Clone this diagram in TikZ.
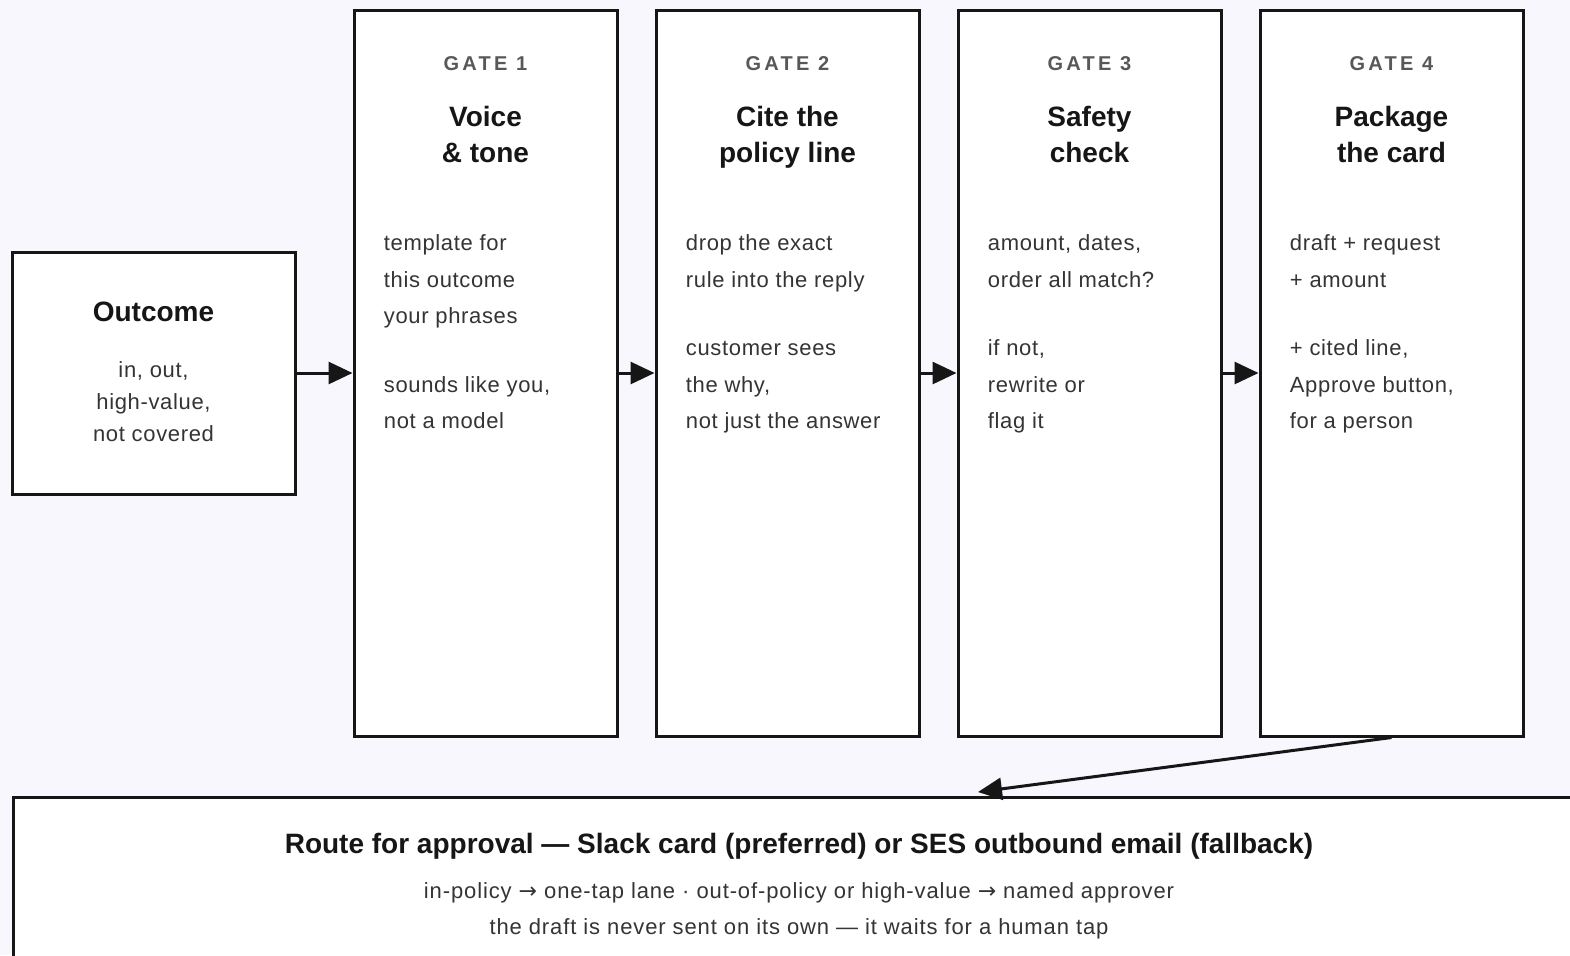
\documentclass[tikz,border=0pt]{standalone}
\usepackage{xcolor}
\usepackage{fontspec}
\setmainfont{Liberation Sans}
\newfontfamily\arrowfont{DejaVu Sans}
\usetikzlibrary{positioning,calc,arrows.meta}
\definecolor{pagebg}{RGB}{248, 247, 253}
\definecolor{inkdark}{RGB}{22, 22, 22}
\definecolor{inkbody}{RGB}{52, 52, 52}
\definecolor{taggrey}{RGB}{88, 88, 88}
\newcommand{\toarrow}{{\arrowfont\fontsize{11}{12}\selectfont →}}

\begin{document}
\begin{tikzpicture}[x=0.5pt, y=-0.5pt,
    box/.style={draw=inkdark, line width=1.5pt, fill=white, inner sep=0pt},
    gatebox/.style={box, minimum width=131.5pt, minimum height=363pt},
    gatetag/.style={anchor=north, inner sep=0pt, text=taggrey,
        font=\fontsize{10}{12}\selectfont\bfseries\addfontfeatures{LetterSpace=16}},
    gatehead/.style={anchor=north, align=center, inner sep=0pt, text=inkdark,
        font=\fontsize{14}{18}\selectfont\bfseries},
    gatetext/.style={anchor=north west, align=left, inner sep=0pt, text=inkbody,
        font=\fontsize{11}{18.25}\selectfont\addfontfeatures{LetterSpace=3}},
    flow/.style={line width=1.5pt, draw=inkdark, -{Triangle[length=12pt, width=11pt]}}]
    % canvas
    \path[fill=pagebg, use as bounding box] (0,0) rectangle (1570,955);
    \clip (0,0) rectangle (1570,955);

    % input
    \node[box, minimum width=141.5pt, minimum height=121pt] (outcome) at (153.5,373) {};
    \node[gatehead] (outcomehead) at ($(outcome.north)+(0,51)$) {Outcome};
    \node[anchor=north, align=center, inner sep=0pt, text=inkbody,
        font=\fontsize{11}{16}\selectfont\addfontfeatures{LetterSpace=3}] (outcometext)
        at ($(outcome.north)+(0,111)$) {in, out,\\high-value,\\not covered};

    % gates
    \node[gatebox] (gateA) at (485.5,373) {};
    \node[gatebox] (gateB) at (787.5,373) {};
    \node[gatebox] (gateC) at (1089.5,373) {};
    \node[gatebox] (gateD) at (1391.5,373) {};

    \node[gatetag] (tagA) at ($(gateA.north)+(0,48)$) {GATE 1};
    \node[gatetag] (tagB) at ($(gateB.north)+(0,48)$) {GATE 2};
    \node[gatetag] (tagC) at ($(gateC.north)+(0,48)$) {GATE 3};
    \node[gatetag] (tagD) at ($(gateD.north)+(0,48)$) {GATE 4};

    \node[gatehead] (headA) at ($(gateA.north)+(0,97)$) {Voice\\\& tone};
    \node[gatehead] (headB) at ($(gateB.north)+(0,97)$) {Cite the\\policy line};
    \node[gatehead] (headC) at ($(gateC.north)+(0,97)$) {Safety\\check};
    \node[gatehead] (headD) at ($(gateD.north)+(0,97)$) {Package\\the card};

    \node[gatetext] (textA) at ($(gateA.north west)+(31,226)$)
        {template for\\this outcome\\your phrases\\[16pt]sounds like you,\\not a model};
    \node[gatetext] (textB) at ($(gateB.north west)+(31,226)$)
        {drop the exact\\rule into the reply\\[16pt]customer sees\\the why,\\not just the answer};
    \node[gatetext] (textC) at ($(gateC.north west)+(31,226)$)
        {amount, dates,\\order all match?\\[16pt]if not,\\rewrite or\\flag it};
    \node[gatetext] (textD) at ($(gateD.north west)+(31,226)$)
        {draft + request\\+ amount\\[16pt]+ cited line,\\Approve button,\\for a person};

    % routing
    \node[box, anchor=north west, minimum width=785.5pt, minimum height=110pt] (route) at (12,796) {};
    \node[gatehead] (routehead) at ($(route.north)+(0,37)$)
        {Route for approval — Slack card (preferred) or SES outbound email (fallback)};
    \node[anchor=north, align=center, inner sep=0pt, text=inkbody,
        font=\fontsize{11}{18}\selectfont\addfontfeatures{LetterSpace=4}] (routetext)
        at ($(route.north)+(0,86)$)
        {in-policy \toarrow{} one-tap lane · out-of-policy or high-value \toarrow{} named approver\\
         the draft is never sent on its own — it waits for a human tap};
    \coordinate (routein) at (978,792);

    \draw[flow] (outcome.east) -- (gateA.west);
    \draw[flow] (gateA.east) -- (gateB.west);
    \draw[flow] (gateB.east) -- (gateC.west);
    \draw[flow] (gateC.east) -- (gateD.west);
    \draw[flow] (gateD.south) -- (routein);
\end{tikzpicture}
\end{document}
